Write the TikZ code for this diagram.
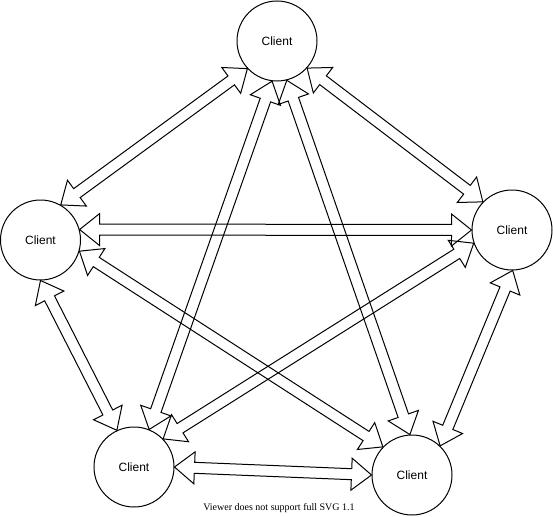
\documentclass[tikz,border=0pt]{standalone}
\usepackage{fontspec}
\setmainfont{Liberation Sans}
\newfontfamily\viewerfont{Liberation Serif}
\usepackage{tikz}
\usetikzlibrary{calc}
\tikzset{
	% client circles and the hollow double-headed arrows between them
	client node/.style={circle,draw,line width=1pt,minimum size=80pt,inner sep=0,font=\fontsize{12}{14}\selectfont},
	flex arrow/.style={draw,line width=1pt,line join=miter}
}

\begin{document}
\begin{tikzpicture}[x=1pt,y=-1pt]
	% macro for a hollow arrow with heads at both ends
	\newcommand{\flexarrow}[2]{
		\coordinate(fa-1)at($(#1)!20pt!(#2)$);
		\coordinate(fa-2)at($(#2)!20pt!(#1)$);
		\draw[flex arrow](#1)--($(fa-1)!16pt!90:(#2)$)--($(fa-1)!5.5pt!90:(#2)$)
			--($(fa-2)!5.5pt!-90:(#1)$)--($(fa-2)!16pt!-90:(#1)$)--(#2)
			--($(fa-2)!16pt!90:(#1)$)--($(fa-2)!5.5pt!90:(#1)$)
			--($(fa-1)!5.5pt!-90:(#2)$)--($(fa-1)!16pt!-90:(#2)$)--cycle;
	}
	\useasboundingbox(0,0)rectangle(553,516);
	
	\node(c-0)[client node]at(277,41){Client};
	\node(c-1)[client node]at(40.5,240){Client};
	\node(c-2)[client node]at(512,230){Client};
	\node(c-3)[client node]at(134,467){Client};
	\node(c-4)[client node]at(412,475){Client};
	
	\flexarrow{c-0.223}{c-1.60}
	\flexarrow{c-0.318}{c-2.136}
	\flexarrow{c-0.263}{c-3.68}
	\flexarrow{c-0.284}{c-4.93}
	\flexarrow{c-1.15}{c-2.180}
	\flexarrow{c-1.-90}{c-3.115}
	\flexarrow{c-1.-16}{c-4.136}
	\flexarrow{c-2.199}{c-3.44}
	\flexarrow{c-2.-89}{c-4.46}
	\flexarrow{c-3.0}{c-4.180}
	
	\node(viewer)[font=\viewerfont\fontsize{10}{12}\selectfont]at(279,508){Viewer does not support full SVG 1.1};
\end{tikzpicture}
\end{document}
